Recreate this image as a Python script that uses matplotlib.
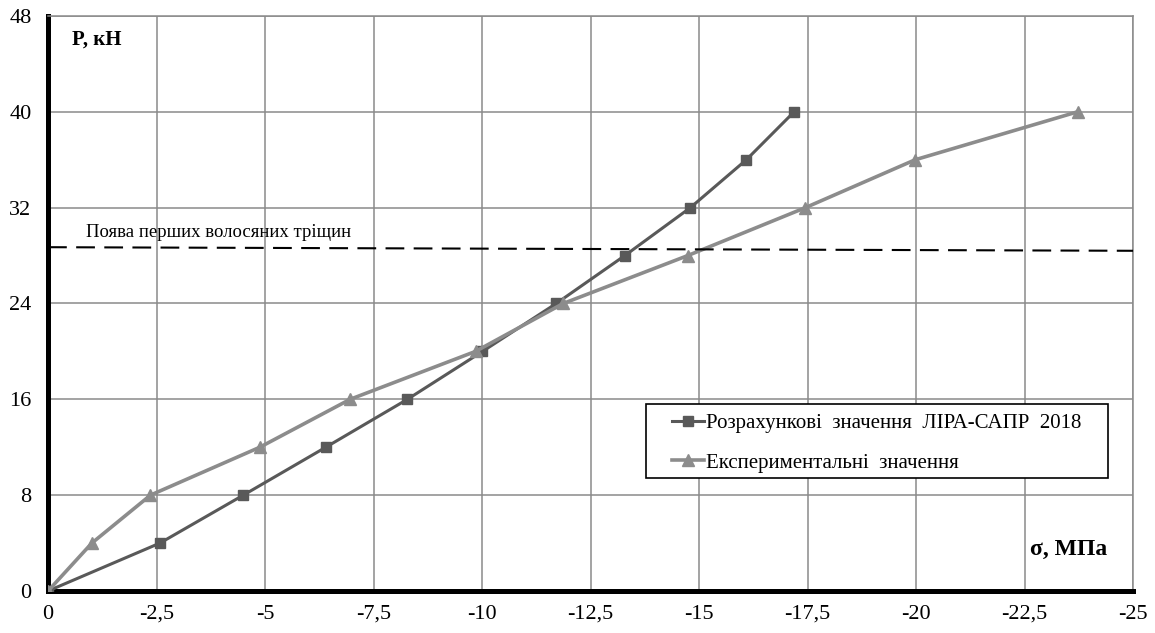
import numpy as np
import matplotlib
matplotlib.use("Agg")
import matplotlib.pyplot as plt
from matplotlib.patches import Rectangle

# data
load_P = [0, 4, 8, 12, 16, 20, 24, 28, 32, 36, 40]
sigma_calc = [0, -2.58, -4.5, -6.4, -8.28, -10.01, -11.71, -13.29, -14.8, -16.09, -17.19]
sigma_exp = [0, -1.01, -2.36, -4.88, -6.96, -9.85, -11.87, -14.74, -17.45, -19.98, -23.72]
crack_x = [0, -25]
crack_P = [28.7, 28.4]

x_ticks = [0, -2.5, -5, -7.5, -10, -12.5, -15, -17.5, -20, -22.5, -25]
x_labels = ["0", "-2,5", "-5", "-7,5", "-10", "-12,5", "-15", "-17,5", "-20", "-22,5", "-25"]
y_ticks = [0, 8, 16, 24, 32, 40, 48]

label_calc = "Розрахункові  значення  ЛІРА-САПР  2018"
label_exp = "Експериментальні  значення"
crack_text = "Поява перших волосяних тріщин"

plt.rcParams['font.family'] = ['Liberation Serif', 'DejaVu Serif']

fig = plt.figure(figsize=(11.55, 6.33), dpi=100)
ax = fig.add_axes([0.0416, 0.0664, 0.9394, 0.9083])

ax.plot(sigma_calc, load_P, color='#595959', lw=2.2, marker='s', ms=6.5,
        label=label_calc, zorder=3)
ax.plot(sigma_exp, load_P, color='#8c8c8c', lw=2.6, marker='^', ms=8.5,
        label=label_exp, zorder=4)
ax.plot(crack_x, crack_P, color='black', lw=1.5, dashes=(9, 4.5), zorder=5,
        clip_on=False)
ax.text(-0.88, 29.2, crack_text, fontsize=13.5, va='bottom', ha='left')

ax.set_xlim(0, -25)
ax.set_ylim(0, 48)
ax.set_xticks(x_ticks)
ax.set_xticklabels(x_labels)
ax.set_yticks(y_ticks)
ax.tick_params(length=0, labelsize=16)
ax.tick_params(axis='y', pad=12)
ax.tick_params(axis='x', pad=10)
ax.grid(True, color='#8a8a8a', lw=1.1)
ax.set_axisbelow(True)

for s in ['left', 'bottom']:
    ax.spines[s].set_linewidth(3.6)
    ax.spines[s].set_color('black')
for s in ['top', 'right']:
    ax.spines[s].set_linewidth(1.1)
    ax.spines[s].set_color('#8a8a8a')

ax.text(-0.55, 46.0, "P, кН", fontsize=15, fontweight='bold', va='center')
ax.text(-22.63, 3.5, "σ, МПа", fontsize=17, fontweight='bold', va='center')

# legend box drawn separately, legend itself without frame on top of it
ax.add_patch(Rectangle((646 / 1155, 1 - 478 / 633), 462 / 1155, 74 / 633,
                       transform=fig.transFigure, facecolor='white',
                       edgecolor='black', lw=1.2, zorder=6, clip_on=False))
leg = ax.legend(loc='center left', bbox_to_anchor=(0.5815, 0.300),
                bbox_transform=fig.transFigure, fontsize=15, numpoints=1,
                frameon=False, handlelength=1.55, handletextpad=0.1,
                labelspacing=0.95, borderpad=0, borderaxespad=0)
leg.set_zorder(7)

fig.savefig("out.png", dpi=100)
